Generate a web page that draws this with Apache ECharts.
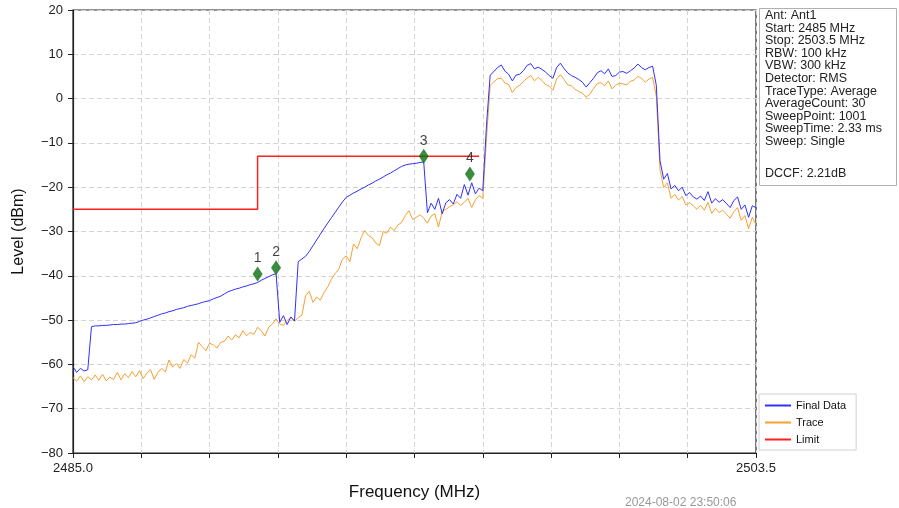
<!DOCTYPE html>
<html>
<head>
<meta charset="utf-8">
<script src="https://cdn.jsdelivr.net/npm/echarts@6/dist/echarts.min.js"></script>
<style>
html,body{margin:0;padding:0;background:#fff;}
#chart{width:899px;height:508px;}
</style>
</head>
<body>
<div id="chart"></div>
<script>
// ---- Data ----
const freqStart = 2485.0;   // MHz
const freqStop = 2503.5;    // MHz
const freqStep = 0.1;       // MHz between stored points

const finalData = [
-60.5,-61.8,-60.9,-61.5,-61.2,-51.5,-51.3,-51.3,-51.2,-51.2,
-51.1,-51.0,-51.0,-50.9,-50.9,-50.8,-50.7,-50.6,-50.3,-50.0,
-49.8,-49.5,-49.2,-48.9,-48.6,-48.4,-48.1,-47.9,-47.6,-47.4,
-47.2,-46.9,-46.7,-46.5,-46.3,-46.0,-45.8,-45.6,-45.2,-44.9,
-44.6,-44.1,-43.6,-43.3,-43.0,-42.8,-42.5,-42.3,-42.0,-41.8,
-41.5,-41.0,-40.6,-40.2,-39.8,-39.5,-50.5,-49.0,-51.0,-49.3,
-50.2,-36.8,-36.2,-35.6,-34.5,-33.2,-31.9,-30.6,-29.3,-28.1,
-26.9,-25.7,-24.5,-23.3,-22.3,-21.8,-21.3,-20.9,-20.4,-20.0,
-19.5,-19.1,-18.6,-18.2,-17.7,-17.2,-16.8,-16.3,-15.8,-15.3,
-15.0,-14.8,-14.7,-14.6,-14.4,-14.3,-25.8,-23.6,-25.0,-22.5,
-26.0,-23.5,-22.8,-23.8,-21.6,-22.5,-19.4,-21.8,-19.0,-21.5,
-20.2,-20.8,-6.0,5.3,6.1,7.0,7.6,6.2,5.5,4.0,
5.3,5.5,6.3,7.5,7.9,6.7,7.1,6.6,6.0,5.2,
4.6,7.0,8.0,6.8,5.8,5.2,4.8,4.3,3.7,2.6,
3.6,4.6,5.8,6.3,5.6,6.7,5.0,5.2,6.0,6.1,
5.7,6.3,6.9,7.8,7.0,6.5,7.0,7.3,3.0,-14.0,
-18.2,-16.9,-20.4,-19.6,-20.8,-20.0,-21.9,-21.2,-22.2,-22.7,
-22.0,-23.0,-21.0,-23.6,-22.6,-23.4,-22.8,-23.7,-24.6,-23.0,
-22.2,-25.0,-24.0,-26.8,-24.2,-24.6
];

const traceData = [
-63.0,-63.8,-62.6,-63.9,-62.8,-63.5,-62.4,-63.6,-62.2,-63.7,
-62.9,-63.4,-61.8,-63.5,-62.1,-63.0,-61.6,-62.8,-61.4,-63.2,
-62.0,-61.2,-63.4,-61.8,-60.9,-61.7,-59.0,-60.6,-59.8,-60.9,
-58.9,-59.7,-57.8,-58.6,-55.0,-56.0,-56.9,-55.2,-55.6,-56.3,
-55.0,-54.8,-53.6,-54.5,-53.3,-54.0,-52.4,-53.5,-52.8,-53.2,
-51.6,-52.4,-53.6,-51.6,-50.9,-49.7,-50.9,-51.2,-50.1,-49.3,
-50.3,-49.4,-48.9,-44.5,-43.5,-46.0,-44.8,-45.5,-43.8,-42.5,
-40.8,-39.5,-38.5,-36.2,-35.5,-36.8,-32.8,-33.9,-31.5,-29.8,
-30.9,-31.4,-32.6,-33.2,-30.0,-30.4,-29.0,-29.8,-28.5,-28.0,
-26.4,-25.3,-27.3,-26.8,-26.2,-27.0,-28.1,-26.5,-26.0,-29.0,
-25.5,-25.0,-24.4,-24.0,-23.3,-24.1,-23.4,-22.5,-24.6,-22.8,
-21.9,-22.5,-9.0,3.0,3.8,4.5,4.6,3.5,3.2,1.4,
2.5,3.0,3.9,4.6,5.2,4.0,4.8,4.1,3.2,2.8,
1.9,4.4,5.4,4.3,3.1,2.9,2.1,1.6,1.2,0.3,
1.0,2.3,3.4,3.6,2.9,4.0,2.2,3.0,3.5,3.3,
3.1,3.9,4.2,5.0,4.6,3.7,4.4,4.8,0.5,-16.0,
-20.1,-19.0,-22.5,-21.6,-22.9,-22.1,-24.0,-23.5,-24.2,-25.0,
-24.1,-25.2,-23.4,-25.9,-24.8,-25.7,-25.2,-26.1,-27.0,-25.5,
-24.6,-27.5,-26.4,-29.4,-26.8,-28.5
];

const limitFreqs = [2485.0, 2490.0, 2490.0, 2496.0];
const limitLevels = [-25, -25, -13, -13];

const markerNames = ['1', '2', '3', '4'];
const markerFreqs = [2490.0, 2490.5, 2494.5, 2495.75];
const markerLevels = [-39.6, -38.2, -13.0, -17.0];

const infoLines = [
  'Ant: Ant1', 'Start: 2485 MHz', 'Stop: 2503.5 MHz', 'RBW: 100 kHz',
  'VBW: 300 kHz', 'Detector: RMS', 'TraceType: Average', 'AverageCount: 30',
  'SweepPoint: 1001', 'SweepTime: 2.33 ms', 'Sweep: Single'
];
const dccfText = 'DCCF: 2.21dB';
const timestamp = '2024-08-02 23:50:06';

// ---- Build ----
const span = +(freqStop - freqStart).toFixed(2);
const tickInterval = span / 10;
const toPairs = arr => arr.map((v, i) => [+(i * freqStep).toFixed(3), v]);
const limitPairs = limitFreqs.map((f, i) => [+(f - freqStart).toFixed(3), limitLevels[i]]);
const markerPairs = markerFreqs.map((f, i) => ({
  value: [+(f - freqStart).toFixed(3), markerLevels[i]],
  label: { formatter: markerNames[i] }
}));

const FONT = 'Liberation Sans, Arial, sans-serif';
const chart = echarts.init(document.getElementById('chart'), null, { renderer: 'canvas' });

chart.setOption({
  animation: false,
  backgroundColor: '#ffffff',
  textStyle: { fontFamily: FONT },
  grid: {
    left: 73, right: 143, top: 10, bottom: 55,
    show: true, borderColor: '#222', borderWidth: 1.2, backgroundColor: 'transparent'
  },
  xAxis: {
    type: 'value', min: 0, max: span, interval: tickInterval,
    name: 'Frequency (MHz)', nameLocation: 'middle', nameGap: 31,
    nameTextStyle: { fontSize: 17, color: '#111', fontFamily: FONT },
    axisLine: { show: true, onZero: false, lineStyle: { color: '#222', width: 1.2 } },
    axisTick: { show: true, length: 5, inside: false, lineStyle: { color: '#222' } },
    axisLabel: {
      show: true, margin: 9, fontSize: 13, color: '#222', fontFamily: FONT,
      showMinLabel: true, showMaxLabel: true,
      formatter: v => (Math.abs(v) < 1e-6 || Math.abs(v - span) < 1e-3) ? (freqStart + v).toFixed(1) : ''
    },
    splitLine: { show: true, lineStyle: { color: '#d4d4d4', type: [5, 3], width: 1 } }
  },
  yAxis: {
    type: 'value', min: -80, max: 20, interval: 10,
    name: 'Level (dBm)', nameLocation: 'middle', nameGap: 46,
    nameTextStyle: { fontSize: 16, color: '#111', fontFamily: FONT },
    axisLine: { show: true, onZero: false, lineStyle: { color: '#222', width: 1.2 } },
    axisTick: { show: true, length: 5, lineStyle: { color: '#222' } },
    axisLabel: {
      margin: 10, fontSize: 13, color: '#222', fontFamily: FONT,
      formatter: v => String(v).replace('-', '\u2212')
    },
    splitLine: { show: true, lineStyle: { color: '#d4d4d4', type: [5, 3], width: 1 } }
  },
  legend: {
    orient: 'vertical', left: 759, top: 394,
    padding: [6, 10, 5, 6], itemGap: 6,
    itemWidth: 26, itemHeight: 2,
    borderColor: '#d0d0d0', borderWidth: 1, backgroundColor: '#fff',
    textStyle: { fontSize: 11, color: '#111', fontFamily: FONT },
    data: [
      { name: 'Final Data', icon: 'rect' },
      { name: 'Trace', icon: 'rect' },
      { name: 'Limit', icon: 'rect' }
    ]
  },
  graphic: [
    { type: 'rect', left: 759, top: 8, shape: { width: 137, height: 177 },
      style: { fill: '#fff', stroke: '#b0b0b0', lineWidth: 1 } },
    { type: 'text', left: 765, top: 9,
      style: { text: infoLines.join('\n'), font: '12.5px ' + FONT, fill: '#222', lineHeight: 12.6 } },
    { type: 'text', left: 765, top: 167,
      style: { text: dccfText, font: '12.5px ' + FONT, fill: '#222' } },
    { type: 'text', left: 625, top: 497,
      style: { text: timestamp, font: '12px ' + FONT, fill: '#999' } }
  ],
  series: [
    {
      name: 'Final Data', type: 'line', data: toPairs(finalData),
      showSymbol: false, symbol: 'none', z: 3,
      lineStyle: { color: '#3030ff', width: 1 }, itemStyle: { color: '#3030ff' }
    },
    {
      name: 'Trace', type: 'line', data: toPairs(traceData),
      showSymbol: false, symbol: 'none', z: 2,
      lineStyle: { color: '#f7a030', width: 1 }, itemStyle: { color: '#f7a030' }
    },
    {
      name: 'Limit', type: 'line', data: limitPairs,
      showSymbol: false, symbol: 'none', z: 4,
      lineStyle: { color: '#ff2020', width: 1.5 }, itemStyle: { color: '#ff2020' }
    },
    {
      name: 'Markers', type: 'scatter', data: markerPairs,
      symbol: 'diamond', symbolSize: [10, 15], z: 6,
      itemStyle: { color: '#0d6e12' },
      label: { show: true, position: 'top', distance: 1, fontSize: 14, color: '#111', fontFamily: FONT }
    }
  ]
});
</script>
</body>
</html>
